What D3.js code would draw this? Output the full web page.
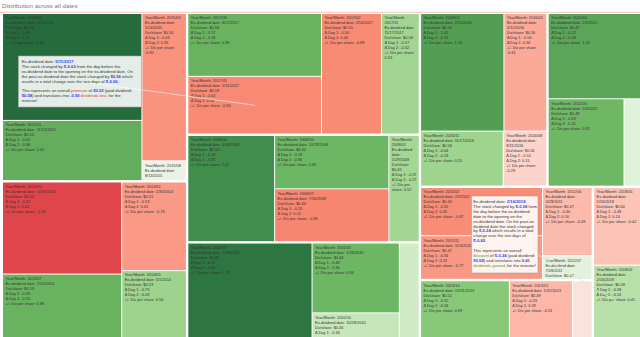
<!DOCTYPE html>
<html><head><meta charset="utf-8">
<script src="https://cdn.jsdelivr.net/npm/d3@7"></script>
<style>html,body{margin:0;padding:0;background:#fff;overflow:hidden}</style>
</head><body><svg id="c" width="640" height="337"></svg>
<script>
// ---- data ----
const yearMonth = ["2015/02","2015/05","2015/11","2015/08",
  "2014/10","2014/01","2014/07","2014/05",
  "2017/08","2017/05","2017/02","2017/11",
  "2009/04","2009/10","2009/07","2009/01",
  "2010/07","2010/01","2010/10","2010/04",
  "2016/02","2016/05","2016/11","2016/08",
  "2012/02","2012/05","2012/08",
  "2011/02","2011/11","2011/04","2011/07",
  "2013/10","2013/01","2013/04",
  "2018/05","2018/02"];
const exDate = ["2/12/2015","5/14/2015","11/12/2015","8/13/2015",
  "10/30/2014","1/30/2014","7/31/2014","5/1/2014",
  "8/17/2017","5/11/2017","2/16/2017","11/17/2017",
  "4/30/2009","10/29/2009","7/30/2009","1/29/2009",
  "7/29/2010","1/28/2010","10/28/2010","4/29/2010",
  "2/11/2016","5/12/2016","11/17/2016","8/11/2016",
  "2/2/2012","5/3/2012","8/2/2012",
  "2/3/2011","11/3/2011","4/28/2011","7/28/2011",
  "10/31/2013","1/31/2013","4/30/2013",
  "5/16/2018","2/16/2018"];
const divShare = [0.53,0.54,0.54,0.54, 0.53,0.51,0.53,0.53, 0.58,0.58,0.55,0.58,
  0.44,0.44,0.44,0.42, 0.46,0.44,0.46,0.46, 0.54,0.56,0.56,0.56,
  0.47,0.49,0.49, 0.46,0.47,0.47,0.47, 0.51,0.49,0.49, 0.60,0.58];
const day1 = [-0.36,-0.43,-0.65,-0.33, -0.22,-0.53,-0.49,-0.73, -0.57,-0.62,-0.50,-0.57,
  -0.19,-0.19,-0.15,-0.37, -0.17,-0.49,-0.33,-0.35, -1.02,-0.56,-0.64,-0.55,
  -0.52,-0.63,-0.40, -0.32,-0.34,-0.40,-0.38, -0.52,-0.53,-0.50, -0.49,-0.58];
const day2 = [-1.17,0.33,-0.46,-0.27, 0.43,0.41,-0.55,-0.09, -0.58,0.56,0.44,-0.32,
  -0.87,-0.66,0.12,-0.27, -1.09,-0.36,-0.28,-0.24, -0.19,0.34,-0.23,0.15,
  -0.49,-0.31,-0.19, 0.26,0.23,0.16,-0.17, -0.34,0.29,0.09, 0.14,-0.24];
const perShare = [1.90,-0.82,1.05,0.11, -1.40,-0.76,0.98,0.56, 0.98,-0.90,-0.89,0.53,
  1.42,0.94,-0.93,0.52, 1.75,0.94,0.33,0.28, 1.23,-0.61,0.55,-0.29,
  1.14,0.92,0.20, -0.87,-0.77,-0.49,0.17, 0.69,-0.51,-0.16, -0.42,0.41];
const annotated = ["2017/05","2018/02"];

// ---- build ----
const FONT = "'Liberation Sans', Arial, sans-serif";
const svg = d3.select("#c").attr("font-family", FONT);
svg.append("rect").attr("width",640).attr("height",337).attr("fill","#fff");
svg.append("text").attr("x",2).attr("y",8).attr("font-size",6.2).attr("fill","#7a7a7a")
  .text("Distribution across all dates");
svg.append("line").attr("x1",0).attr("x2",640).attr("y1",12.3).attr("y2",12.3)
  .attr("stroke","#f2c4c4").attr("stroke-width",1);

const meas = svg.append("text").attr("x",-1000).attr("y",-1000).style("white-space","pre");
function tw(s, fs, bold){ meas.attr("font-size",fs).attr("font-weight",bold?"bold":"normal").text(s); return meas.node().getComputedTextLength(); }

const rows = yearMonth.map((ym,i)=>({ym, year: ym.slice(0,4), ex: exDate[i], div: divShare[i],
  d1: day1[i], d2: day2[i], pm: perShare[i]}));
rows.forEach(r => r.size = Math.abs(r.pm * r.div));

const root = d3.hierarchy({children: d3.groups(rows, d=>d.year).map(([k,v])=>({name:k, children:v}))})
  .sum(d => d.size || 0)
  .sort((a,b) => b.value - a.value);
d3.treemap().tile(d3.treemapSquarify).size([637, 324])
  .paddingInner(d => d.depth === 0 ? 2.4 : 1)(root);

const color = d3.scaleLinear()
  .domain([-1.40,-0.90,-0.60,-0.30,0,0.2,0.45,0.7,0.95,1.25,1.5,1.9])
  .range(["#e0454b","#f88a73","#fbab9b","#fdd3ca","#f8f4f2","#e0f2d9","#b0dc9f","#86c777","#6cb562","#509c52","#3a8648","#256b3c"])
  .clamp(true);

const g = svg.append("g").attr("transform","translate(3,14)");
const leaves = root.leaves();
g.selectAll("rect.cell").data(leaves).join("rect").attr("class","cell")
  .attr("x",d=>d.x0).attr("y",d=>d.y0)
  .attr("width",d=>d.x1-d.x0).attr("height",d=>d.y1-d.y0)
  .attr("fill",d=>color(d.data.pm));

const LFS = 3.9, LSTEP = 5.0;
leaves.forEach(d => {
  const r = d.data, w = d.x1 - d.x0 - 4;
  if (tw("Year/Month:", LFS) > w) return;
  const src = ["Year/Month: " + r.ym, "Ex-dividend date: " + r.ex, "Div/share: $" + r.div.toFixed(2),
    "\u0394 Day 1: " + r.d1.toFixed(2), "\u0394 Day 2: " + r.d2.toFixed(2),
    "+/- Div per share: " + r.pm.toFixed(2)];
  const lines = [];
  src.forEach(s => {
    const words = s.split(" "); let cur = "";
    words.forEach(wd => {
      const t = cur ? cur + " " + wd : wd;
      if (cur && tw(t, LFS) > w) { lines.push(cur); cur = wd; } else cur = t;
    });
    lines.push(cur);
  });
  const t = g.append("text").attr("font-size",LFS).attr("fill","#333");
  lines.forEach((s,k) => {
    const y = d.y0 + 5.3 + k*LSTEP;
    if (y + 1.2 > d.y1) return;
    t.append("tspan").attr("x", d.x0 + 2.5).attr("y", y).text(s);
  });
});

// ---- annotations ----
const noteBoxes = [[18.3,56,123.4,51,113.4],[471.5,196,66.5,77,64.4]];
const AFS = 4.2, ASTEP = 4.9;
const BLUE = "#3d3df2", RED = "#e0403f", GREEN = "#3c9e3c";
annotated.forEach((ym, ai) => {
  const leaf = leaves.find(l => l.data.ym === ym), r = leaf.data;
  const [bx,by,bw,bh,ww] = noteBoxes[ai];
  const tx = 3 + (leaf.x0+leaf.x1)/2, ty = 14 + (leaf.y0+leaf.y1)/2;
  svg.append("line").attr("x1",bx+bw/2).attr("y1",by+bh/2).attr("x2",tx).attr("y2",ty)
    .attr("stroke","#e2e2e2").attr("stroke-width",0.8);
  svg.append("rect").attr("x",bx).attr("y",by).attr("width",bw).attr("height",bh)
    .attr("fill","#fff").attr("fill-opacity",0.88).attr("stroke","#a0a0a0").attr("stroke-width",0.6);
  const total = r.d1 + r.d2, prem = r.div + total, isPrem = prem > 0;
  const f = v => v.toFixed(2);
  const toks = [["Ex-dividend date: "],[r.ex,BLUE,1],["\n"],
    ["The stock changed by "],["$"+f(r.d1),BLUE,1],[" from the day before the ex-dividend date to the opening on the ex-dividend date. On the post-ex dividend date the stock changed by "],
    ["$"+f(r.d2),BLUE,1],[" which results in a total change over the two days of "],["$"+f(total)+".",BLUE,1],["\n"],["\n"],
    ["This represents an overall "],[isPrem?"premium":"discount", isPrem?RED:GREEN],[" of "],["$"+f(prem),BLUE,1],
    [" (paid dividend: "],["$"+f(r.div),BLUE,1],[") and translates into "],[f(r.pm),BLUE,1],[" "],
    [isPrem?"dividends lost":"dividends gained", isPrem?RED:GREEN],[", for the investor!"]];
  // words made of styled fragments
  const items = []; let word = [];
  const close = () => { if (word.length) { items.push({frags: word}); word = []; } };
  toks.forEach(([s,c,b]) => {
    if (s === "\n") { close(); items.push({br:true}); return; }
    s.split(/( )/).forEach(p => {
      if (p === " ") close();
      else if (p) word.push({s:p, c:c||"#333", b:!!b});
    });
  });
  close();
  const spaceW = tw("a a",AFS) - tw("aa",AFS);
  const lines = []; let cur = [], curW = 0;
  items.forEach(it => {
    if (it.br) { lines.push(cur); cur = []; curW = 0; return; }
    const wW = it.frags.reduce((a,fr)=>a+tw(fr.s,AFS,fr.b),0);
    if (cur.length && curW + spaceW + wW > ww) { lines.push(cur); cur = []; curW = 0; }
    curW += (cur.length ? spaceW : 0) + wW; cur.push(it);
  });
  lines.push(cur);
  lines.forEach((ln,k) => {
    const t = svg.append("text").attr("x", bx + (ai===0?3.4:1.8)).attr("y", by + 7 + k*ASTEP)
      .attr("font-size",AFS).style("white-space","pre");
    ln.forEach((it,j) => {
      it.frags.forEach((fr,fi) => {
        t.append("tspan").text((j>0 && fi===0 ? " " : "") + fr.s)
          .attr("fill", fr.c).attr("font-weight", fr.b ? "bold" : null);
      });
    });
  });
});
meas.remove();
</script>
</body></html>
